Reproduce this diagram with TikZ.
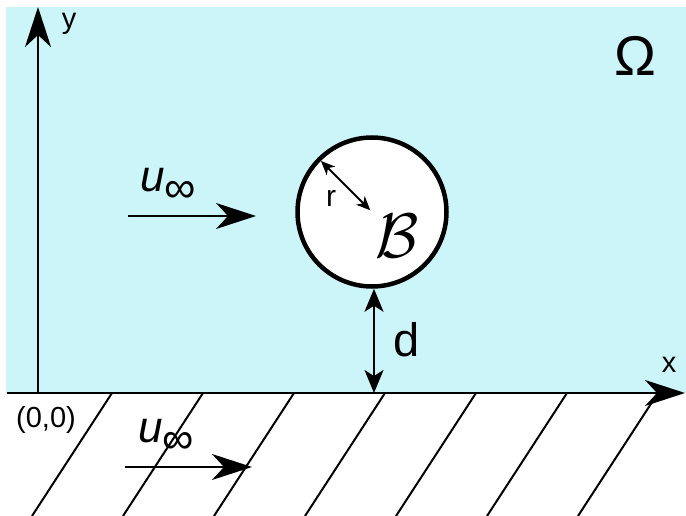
\documentclass[tikz,border=0pt]{standalone}
\usepackage{fontspec}
\setmainfont{Liberation Sans}
\usetikzlibrary{arrows.meta,calc}
\definecolor{fluid}{RGB}{204,245,250}
\begin{document}
\begin{tikzpicture}[x=1pt,y=-1pt,
  axis/.style={line width=2.5pt,-{Stealth[length=40pt,width=26pt,inset=12pt]}},
  flow/.style={line width=2pt,-{Stealth[length=40pt,width=26pt,inset=12pt]}},
  hatch/.style={line width=2pt},
  dimline/.style={line width=2pt,{Stealth[length=23pt,width=19pt,inset=6pt]}-{Stealth[length=23pt,width=19pt,inset=6pt]}},
  radline/.style={line width=1.8pt,{Stealth[length=14pt,width=12pt,inset=4pt]}-{Stealth[length=14pt,width=12pt,inset=4pt]}},
  lbl/.style={inner sep=0pt,outer sep=0pt}
]
\useasboundingbox (0,0) rectangle (686,516);
\fill[fluid] (6,7) rectangle (686,393);
\begin{scope}
\clip (0,393) rectangle (686,516);
\foreach \t in {112,203,294,385,476,567,658} {
  \draw[hatch] (\t,393) -- ({\t-80},516);
}
\end{scope}
% axes
\coordinate (O) at (38,393);
\coordinate (ytip) at (38,7);
\coordinate (xs) at (7,393);
\coordinate (xtip) at (685,393);
\draw[axis] (O) -- (ytip);
\draw[axis] (xs) -- (xtip);
% body
\node[circle,draw,fill=white,line width=4.5pt,minimum size=149pt,inner sep=0pt] (B) at (372,212) {};
\coordinate (dfoot) at (374,393);
\draw[dimline] (B.south -| dfoot) -- (dfoot);
\coordinate (rs) at ($(B.center)!0.94!(B.135)$);
\coordinate (re) at ($(B.center)!0.03!(B.135)$);
\draw[radline] (rs) -- (re);
% flow arrows
\coordinate (u1s) at (128,216);
\coordinate (u1e) at (256,216);
\draw[flow] (u1s) -- (u1e);
\coordinate (u2s) at (125,467);
\coordinate (u2e) at (252,467);
\draw[flow] (u2s) -- (u2e);
% labels
\node[lbl,anchor=base west] (uinf1) at (140,192) {\fontsize{44}{44}\selectfont\itshape u\raisebox{-11pt}{\upshape\fontsize{44}{44}\selectfont ∞}};
\node[lbl,anchor=base west] (uinf2) at (138,442) {\fontsize{44}{44}\selectfont\itshape u\raisebox{-11pt}{\upshape\fontsize{44}{44}\selectfont ∞}};
\node[lbl] (omega) at (635,56) {\fontsize{56}{56}\selectfont Ω};
\node[lbl,scale=6.3] (Bl) at (397,236) {$\mathcal{B}$};
\node[lbl] (dl) at (407,340) {\fontsize{47}{47}\selectfont d};
\node[lbl] (rl) at (331,198) {\fontsize{30}{30}\selectfont r};
\node[lbl] (yl) at (69,24) {\fontsize{29}{29}\selectfont y};
\node[lbl] (xl) at (669,365) {\fontsize{29}{29}\selectfont x};
\node[lbl] (orig) at (46,420) {\fontsize{29}{29}\selectfont (0,0)};
\end{tikzpicture}
\end{document}
